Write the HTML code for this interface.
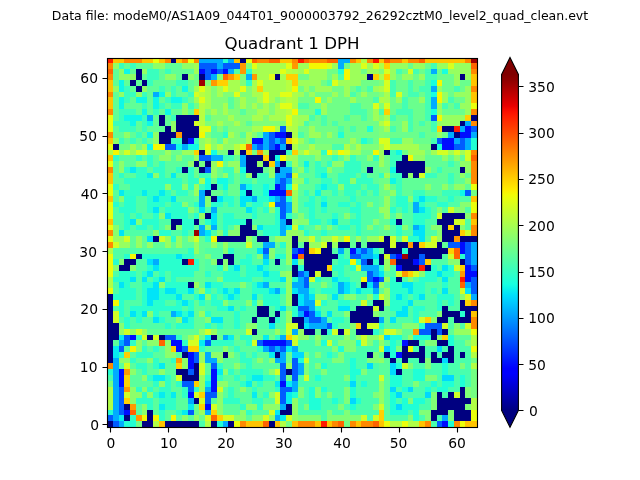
<!DOCTYPE html>
<html><head><meta charset="utf-8"><title>Quadrant 1 DPH</title>
<style>html,body{margin:0;padding:0;background:#fff}body{width:640px;height:480px;position:relative;overflow:hidden}</style>
</head><body>
<svg width="640" height="480" viewBox="0 0 640 480" style="position:absolute;left:0;top:0">
<defs><linearGradient id="jet" x1="0" y1="1" x2="0" y2="0"><stop offset="0.0000" stop-color="#000080"/><stop offset="0.0156" stop-color="#000092"/><stop offset="0.0312" stop-color="#0000a4"/><stop offset="0.0469" stop-color="#0000b6"/><stop offset="0.0625" stop-color="#0000c8"/><stop offset="0.0781" stop-color="#0000da"/><stop offset="0.0938" stop-color="#0000ed"/><stop offset="0.1094" stop-color="#0000ff"/><stop offset="0.1250" stop-color="#0000ff"/><stop offset="0.1406" stop-color="#0010ff"/><stop offset="0.1562" stop-color="#0020ff"/><stop offset="0.1719" stop-color="#0030ff"/><stop offset="0.1875" stop-color="#0040ff"/><stop offset="0.2031" stop-color="#0050ff"/><stop offset="0.2188" stop-color="#0060ff"/><stop offset="0.2344" stop-color="#0070ff"/><stop offset="0.2500" stop-color="#0080ff"/><stop offset="0.2656" stop-color="#0090ff"/><stop offset="0.2812" stop-color="#00a0ff"/><stop offset="0.2969" stop-color="#00b0ff"/><stop offset="0.3125" stop-color="#00c0ff"/><stop offset="0.3281" stop-color="#00d0ff"/><stop offset="0.3438" stop-color="#00e0fb"/><stop offset="0.3594" stop-color="#09f0ee"/><stop offset="0.3750" stop-color="#16ffe1"/><stop offset="0.3906" stop-color="#23ffd4"/><stop offset="0.4062" stop-color="#30ffc7"/><stop offset="0.4219" stop-color="#3cffba"/><stop offset="0.4375" stop-color="#49ffad"/><stop offset="0.4531" stop-color="#56ffa0"/><stop offset="0.4688" stop-color="#63ff94"/><stop offset="0.4844" stop-color="#70ff87"/><stop offset="0.5000" stop-color="#7dff7a"/><stop offset="0.5156" stop-color="#8aff6d"/><stop offset="0.5312" stop-color="#97ff60"/><stop offset="0.5469" stop-color="#a4ff53"/><stop offset="0.5625" stop-color="#b1ff46"/><stop offset="0.5781" stop-color="#beff39"/><stop offset="0.5938" stop-color="#caff2c"/><stop offset="0.6094" stop-color="#d7ff1f"/><stop offset="0.6250" stop-color="#e4ff13"/><stop offset="0.6406" stop-color="#f1fc06"/><stop offset="0.6562" stop-color="#feed00"/><stop offset="0.6719" stop-color="#ffde00"/><stop offset="0.6875" stop-color="#ffd000"/><stop offset="0.7031" stop-color="#ffc100"/><stop offset="0.7188" stop-color="#ffb200"/><stop offset="0.7344" stop-color="#ffa300"/><stop offset="0.7500" stop-color="#ff9400"/><stop offset="0.7656" stop-color="#ff8600"/><stop offset="0.7812" stop-color="#ff7700"/><stop offset="0.7969" stop-color="#ff6800"/><stop offset="0.8125" stop-color="#ff5900"/><stop offset="0.8281" stop-color="#ff4a00"/><stop offset="0.8438" stop-color="#ff3b00"/><stop offset="0.8594" stop-color="#ff2d00"/><stop offset="0.8750" stop-color="#ff1e00"/><stop offset="0.8906" stop-color="#fa0f00"/><stop offset="0.9062" stop-color="#e80000"/><stop offset="0.9219" stop-color="#d60000"/><stop offset="0.9375" stop-color="#c40000"/><stop offset="0.9531" stop-color="#b20000"/><stop offset="0.9688" stop-color="#9f0000"/><stop offset="0.9844" stop-color="#8d0000"/><stop offset="1.0000" stop-color="#800000"/></linearGradient></defs>
<g shape-rendering="crispEdges"><path fill="#000080" d="M171 58h5v5h-5zM240 58h6v5h-6zM136 69h6v5h-6zM136 74h6v6h-6zM182 74h6v6h-6zM199 74h6v6h-6zM275 74h5v6h-5zM367 74h6v6h-6zM460 74h5v6h-5zM130 80h6v6h-6zM142 80h5v6h-5zM136 86h6v6h-6zM159 115h6v6h-6zM176 115h23v6h-23zM471 115h7v6h-7zM159 121h6v5h-6zM176 121h18v5h-18zM460 121h5v5h-5zM165 126h6v6h-6zM176 126h23v6h-23zM442 126h12v6h-12zM159 132h17v6h-17zM182 132h17v6h-17zM286 132h6v6h-6zM454 132h6v6h-6zM159 138h12v6h-12zM182 138h6v6h-6zM113 144h6v6h-6zM286 144h6v6h-6zM431 144h6v6h-6zM199 150h6v5h-6zM228 150h6v5h-6zM240 150h6v5h-6zM269 150h17v5h-17zM384 150h6v5h-6zM246 155h17v6h-17zM269 155h6v6h-6zM402 155h6v6h-6zM194 161h5v6h-5zM205 161h6v6h-6zM246 161h11v6h-11zM263 161h6v6h-6zM280 161h6v6h-6zM396 161h29v6h-29zM182 167h6v6h-6zM199 167h6v6h-6zM246 167h17v6h-17zM275 167h5v6h-5zM367 167h6v6h-6zM396 167h29v6h-29zM460 167h5v6h-5zM252 173h5v5h-5zM402 173h6v5h-6zM413 173h6v5h-6zM211 184h6v6h-6zM205 190h6v6h-6zM246 190h6v6h-6zM211 196h6v6h-6zM205 213h6v6h-6zM442 213h23v6h-23zM171 219h11v6h-11zM194 219h5v6h-5zM246 219h6v6h-6zM286 219h6v6h-6zM396 219h6v6h-6zM437 219h17v6h-17zM171 225h5v5h-5zM240 225h12v5h-12zM442 225h6v5h-6zM454 225h6v5h-6zM240 230h17v6h-17zM442 230h18v6h-18zM153 236h6v6h-6zM217 236h29v6h-29zM257 236h12v6h-12zM292 236h6v6h-6zM384 236h6v6h-6zM442 236h12v6h-12zM460 236h18v6h-18zM292 242h6v6h-6zM304 242h5v6h-5zM327 242h5v6h-5zM338 242h12v6h-12zM356 242h5v6h-5zM367 242h23v6h-23zM396 242h12v6h-12zM413 242h6v6h-6zM437 242h5v6h-5zM304 248h5v6h-5zM321 248h11v6h-11zM384 248h18v6h-18zM408 248h40v6h-40zM136 254h6v5h-6zM223 254h11v5h-11zM304 254h34v5h-34zM379 254h5v5h-5zM408 254h11v5h-11zM425 254h17v5h-17zM124 259h12v6h-12zM182 259h6v6h-6zM217 259h6v6h-6zM228 259h6v6h-6zM275 259h5v6h-5zM304 259h28v6h-28zM367 259h6v6h-6zM379 259h5v6h-5zM396 259h17v6h-17zM460 259h5v6h-5zM119 265h11v6h-11zM292 265h6v6h-6zM304 265h23v6h-23zM402 265h17v6h-17zM425 265h6v6h-6zM292 271h6v6h-6zM309 271h6v6h-6zM321 271h11v6h-11zM396 277h6v5h-6zM188 282h6v6h-6zM361 282h6v6h-6zM107 294h6v6h-6zM292 294h6v6h-6zM107 300h6v6h-6zM292 300h6v6h-6zM373 300h11v6h-11zM460 300h5v6h-5zM107 306h6v5h-6zM257 306h12v5h-12zM356 306h17v5h-17zM379 306h5v5h-5zM442 306h6v5h-6zM460 306h18v5h-18zM107 311h6v6h-6zM257 311h12v6h-12zM275 311h5v6h-5zM350 311h23v6h-23zM442 311h18v6h-18zM465 311h6v6h-6zM107 317h6v6h-6zM252 317h5v6h-5zM269 317h6v6h-6zM292 317h12v6h-12zM350 317h29v6h-29zM437 317h11v6h-11zM454 317h17v6h-17zM107 323h12v6h-12zM298 323h6v6h-6zM361 323h6v6h-6zM107 329h12v6h-12zM252 329h5v6h-5zM304 329h11v6h-11zM321 329h6v6h-6zM338 329h6v6h-6zM356 329h17v6h-17zM431 329h6v6h-6zM442 329h6v6h-6zM107 335h12v5h-12zM147 335h6v5h-6zM159 335h6v5h-6zM211 335h6v5h-6zM431 335h6v5h-6zM107 340h6v6h-6zM408 340h11v6h-11zM437 340h11v6h-11zM107 346h6v6h-6zM402 346h6v6h-6zM419 346h6v6h-6zM448 346h6v6h-6zM107 352h6v6h-6zM182 352h6v6h-6zM223 352h5v6h-5zM275 352h5v6h-5zM367 352h6v6h-6zM384 352h6v6h-6zM402 352h23v6h-23zM431 352h6v6h-6zM442 352h12v6h-12zM460 352h5v6h-5zM107 358h6v5h-6zM390 358h6v5h-6zM402 358h6v5h-6zM419 358h6v5h-6zM431 358h11v5h-11zM448 358h6v5h-6zM194 363h5v6h-5zM176 369h12v6h-12zM194 369h5v6h-5zM286 369h6v6h-6zM396 369h6v6h-6zM182 375h17v6h-17zM460 387h5v5h-5zM437 392h5v6h-5zM448 392h6v6h-6zM460 392h5v6h-5zM194 398h5v6h-5zM437 398h34v6h-34zM124 404h6v6h-6zM286 404h6v6h-6zM437 404h28v6h-28zM147 410h6v5h-6zM280 410h12v5h-12zM431 410h17v5h-17zM454 410h17v5h-17zM124 415h6v6h-6zM147 415h6v6h-6zM431 415h6v6h-6zM454 415h17v6h-17zM107 421h6v7h-6zM142 421h11v7h-11zM165 421h34v7h-34zM211 421h6v7h-6zM228 421h6v7h-6zM269 421h6v7h-6z"/><path fill="#000cff" d="M199 69h6v5h-6zM211 69h6v5h-6zM223 69h5v5h-5zM465 126h6v6h-6zM275 132h11v6h-11zM460 132h11v6h-11zM188 138h6v6h-6zM252 138h11v6h-11zM442 138h12v6h-12zM275 144h5v6h-5zM442 144h12v6h-12zM275 184h5v6h-5zM269 190h17v6h-17zM460 242h5v6h-5zM298 248h6v6h-6zM350 248h6v6h-6zM460 248h5v6h-5zM292 254h6v5h-6zM396 254h6v5h-6zM413 259h6v6h-6zM396 265h6v6h-6zM465 265h6v6h-6zM465 271h13v6h-13zM373 277h6v5h-6zM465 277h6v5h-6zM304 311h5v6h-5zM130 335h6v5h-6zM171 340h11v6h-11zM263 340h23v6h-23zM402 340h6v6h-6zM176 346h6v6h-6zM188 352h6v6h-6zM396 352h6v6h-6zM188 358h6v5h-6zM188 363h6v6h-6zM119 369h5v6h-5zM211 369h6v6h-6zM119 375h5v6h-5zM211 375h6v6h-6zM119 381h5v6h-5zM211 381h6v6h-6zM280 381h6v6h-6zM211 387h6v5h-6zM188 392h6v6h-6zM205 404h6v6h-6zM124 410h6v5h-6zM442 421h6v7h-6z"/><path fill="#005cff" d="M199 63h18v6h-18zM223 63h17v6h-17zM205 69h6v5h-6zM217 69h6v5h-6zM205 74h6v6h-6zM431 115h6v6h-6zM280 126h6v6h-6zM471 126h7v6h-7zM269 132h6v6h-6zM269 138h6v6h-6zM280 138h6v6h-6zM437 138h5v6h-5zM460 138h5v6h-5zM165 144h11v6h-11zM257 144h6v6h-6zM269 144h6v6h-6zM454 144h11v6h-11zM199 155h12v6h-12zM205 167h6v6h-6zM286 173h6v5h-6zM280 178h6v6h-6zM280 184h6v6h-6zM465 190h6v6h-6zM280 196h6v6h-6zM275 202h11v5h-11zM280 207h6v6h-6zM280 213h6v6h-6zM448 242h12v6h-12zM465 242h6v6h-6zM263 248h6v6h-6zM292 248h6v6h-6zM361 248h6v6h-6zM465 248h6v6h-6zM350 254h11v5h-11zM390 254h6v5h-6zM419 254h6v5h-6zM465 254h6v5h-6zM361 259h6v6h-6zM419 259h6v6h-6zM465 259h6v6h-6zM471 265h7v6h-7zM298 271h6v6h-6zM367 271h6v6h-6zM304 277h5v5h-5zM367 277h6v5h-6zM379 277h5v5h-5zM471 277h7v5h-7zM304 282h5v6h-5zM373 282h6v6h-6zM471 282h7v6h-7zM471 288h7v6h-7zM298 306h11v5h-11zM309 311h6v6h-6zM309 317h12v6h-12zM327 323h5v6h-5zM425 323h17v6h-17zM419 329h12v6h-12zM437 329h5v6h-5zM124 335h6v5h-6zM165 335h11v5h-11zM124 340h6v6h-6zM205 340h6v6h-6zM257 340h6v6h-6zM286 340h6v6h-6zM119 346h5v6h-5zM182 346h6v6h-6zM269 346h6v6h-6zM280 346h6v6h-6zM194 352h5v6h-5zM194 358h5v5h-5zM292 358h6v5h-6zM211 363h6v6h-6zM280 363h6v6h-6zM292 363h6v6h-6zM188 369h6v6h-6zM280 369h6v6h-6zM292 369h6v6h-6zM280 375h6v6h-6zM292 375h6v6h-6zM182 381h12v6h-12zM119 387h5v5h-5zM188 387h6v5h-6zM280 387h12v5h-12zM119 392h5v6h-5zM205 392h12v6h-12zM280 392h6v6h-6zM119 398h5v6h-5zM205 398h6v6h-6zM280 398h6v6h-6zM119 404h5v6h-5zM119 410h5v5h-5zM188 410h6v5h-6zM107 415h6v6h-6zM113 421h6v7h-6zM437 421h5v7h-5z"/><path fill="#00acff" d="M199 58h24v5h-24zM228 58h6v5h-6zM338 58h12v5h-12zM217 63h6v6h-6zM338 63h6v6h-6zM228 69h6v5h-6zM431 69h6v5h-6zM211 74h6v6h-6zM246 74h6v6h-6zM431 86h6v6h-6zM153 92h6v5h-6zM431 97h6v6h-6zM431 103h6v6h-6zM147 115h6v6h-6zM465 121h6v5h-6zM460 126h5v6h-5zM263 132h6v6h-6zM448 132h6v6h-6zM471 132h7v6h-7zM263 138h6v6h-6zM275 138h5v6h-5zM454 138h6v6h-6zM465 138h6v6h-6zM182 144h6v6h-6zM252 144h5v6h-5zM263 144h6v6h-6zM280 144h6v6h-6zM465 144h6v6h-6zM211 155h12v6h-12zM240 155h6v6h-6zM240 161h6v6h-6zM275 161h5v6h-5zM280 167h12v6h-12zM275 173h11v5h-11zM275 178h5v6h-5zM286 178h6v6h-6zM240 184h6v6h-6zM199 190h6v6h-6zM199 196h6v6h-6zM252 196h5v6h-5zM275 196h5v6h-5zM199 202h6v5h-6zM286 202h6v5h-6zM413 202h6v5h-6zM211 207h6v6h-6zM286 207h6v6h-6zM413 207h6v6h-6zM280 219h6v6h-6zM199 225h6v5h-6zM211 225h6v5h-6zM280 225h6v5h-6zM413 225h6v5h-6zM199 230h6v6h-6zM280 230h6v6h-6zM263 242h12v6h-12zM471 242h7v6h-7zM338 248h6v6h-6zM356 248h5v6h-5zM367 248h6v6h-6zM471 248h7v6h-7zM263 254h6v5h-6zM361 254h12v5h-12zM471 254h7v5h-7zM153 259h6v6h-6zM471 259h7v6h-7zM361 265h18v6h-18zM304 271h5v6h-5zM373 271h6v6h-6zM298 277h6v5h-6zM263 282h6v6h-6zM292 282h12v6h-12zM338 282h6v6h-6zM465 282h6v6h-6zM275 288h5v6h-5zM298 288h11v6h-11zM338 288h6v6h-6zM373 288h6v6h-6zM304 294h5v6h-5zM471 294h7v6h-7zM304 300h11v6h-11zM309 306h6v5h-6zM171 311h5v6h-5zM298 311h6v6h-6zM304 317h5v6h-5zM321 317h6v6h-6zM379 317h5v6h-5zM309 323h18v6h-18zM292 329h6v6h-6zM223 335h5v5h-5zM280 335h6v5h-6zM119 340h5v6h-5zM263 346h6v6h-6zM275 346h5v6h-5zM292 346h6v6h-6zM205 352h6v6h-6zM280 352h6v6h-6zM113 358h6v5h-6zM205 358h12v5h-12zM275 358h11v5h-11zM113 363h6v6h-6zM298 363h6v6h-6zM113 369h6v6h-6zM298 369h6v6h-6zM113 375h6v6h-6zM113 381h6v6h-6zM292 381h6v6h-6zM113 387h6v5h-6zM205 387h6v5h-6zM292 387h6v5h-6zM113 392h6v6h-6zM113 398h6v6h-6zM188 398h6v6h-6zM113 404h6v6h-6zM280 404h6v6h-6zM113 410h6v5h-6zM205 410h6v5h-6zM113 415h6v6h-6zM275 415h5v6h-5zM442 415h6v6h-6zM119 421h5v7h-5zM223 421h5v7h-5z"/><path fill="#00d8ff" d="M384 335h6v5h-6zM384 346h6v6h-6zM437 346h5v6h-5zM292 352h12v6h-12zM442 358h6v5h-6zM367 363h6v6h-6zM390 363h6v6h-6zM390 369h6v6h-6zM442 375h12v6h-12zM350 381h6v6h-6zM390 387h6v5h-6zM408 387h5v5h-5zM396 392h6v6h-6zM425 392h6v6h-6zM350 398h6v6h-6zM396 404h6v6h-6z"/><path fill="#00e4f8" d="M153 196h6v6h-6zM171 196h5v6h-5zM217 196h6v6h-6zM240 196h12v6h-12zM269 196h6v6h-6zM419 196h6v6h-6zM240 202h6v5h-6zM321 202h6v5h-6zM153 207h6v6h-6zM199 207h6v6h-6zM246 207h6v6h-6zM419 207h6v6h-6zM165 213h6v6h-6zM211 213h6v6h-6zM130 219h6v6h-6zM211 219h6v6h-6zM332 219h6v6h-6zM257 225h6v5h-6zM286 225h6v5h-6zM419 225h6v5h-6zM119 230h5v6h-5zM205 230h6v6h-6zM413 230h12v6h-12zM147 236h6v6h-6zM419 236h6v6h-6zM257 248h6v6h-6zM176 254h6v5h-6zM373 254h6v5h-6zM147 259h6v6h-6zM263 259h6v6h-6zM292 259h6v6h-6zM153 265h6v6h-6zM234 265h6v6h-6zM257 265h6v6h-6zM442 265h6v6h-6zM147 271h6v6h-6zM263 271h6v6h-6zM379 271h5v6h-5zM437 271h5v6h-5zM130 277h6v5h-6zM142 277h5v5h-5zM159 277h6v5h-6zM280 277h6v5h-6zM332 277h6v5h-6zM442 277h6v5h-6zM119 282h5v6h-5zM153 282h6v6h-6zM205 282h6v6h-6zM257 282h6v6h-6zM344 282h6v6h-6zM367 282h6v6h-6zM402 282h11v6h-11zM147 288h12v6h-12zM165 288h11v6h-11zM188 288h6v6h-6zM223 288h5v6h-5zM234 288h6v6h-6zM269 288h6v6h-6zM292 288h6v6h-6zM344 288h6v6h-6zM356 288h5v6h-5zM408 288h5v6h-5zM442 288h6v6h-6zM465 288h6v6h-6zM147 294h12v6h-12zM176 294h6v6h-6zM199 294h6v6h-6zM228 294h6v6h-6zM252 294h5v6h-5zM298 294h6v6h-6zM309 294h6v6h-6zM332 294h6v6h-6zM396 294h6v6h-6zM419 294h6v6h-6zM147 300h6v6h-6zM182 300h6v6h-6zM298 300h6v6h-6zM408 300h5v6h-5zM228 306h6v5h-6zM280 306h6v5h-6zM338 306h12v5h-12zM402 306h6v5h-6zM130 311h6v6h-6zM142 311h5v6h-5zM176 311h6v6h-6zM188 311h6v6h-6zM315 311h6v6h-6zM327 311h5v6h-5zM396 311h12v6h-12zM153 317h6v6h-6zM182 317h6v6h-6zM211 317h12v6h-12zM390 317h6v6h-6zM269 323h6v6h-6zM304 323h5v6h-5z"/><path fill="#06ecf1" d="M130 167h6v6h-6zM147 173h6v5h-6zM171 173h5v5h-5zM119 190h5v6h-5zM142 190h5v6h-5zM159 190h6v6h-6zM119 335h5v5h-5zM205 335h6v5h-6zM228 335h6v5h-6zM263 335h6v5h-6zM199 340h6v6h-6zM113 346h6v6h-6zM286 346h6v6h-6zM113 352h6v6h-6zM269 352h6v6h-6zM159 363h6v6h-6zM217 369h6v6h-6zM153 375h12v6h-12zM252 375h11v6h-11zM205 381h6v6h-6zM246 381h6v6h-6zM275 381h5v6h-5zM286 381h6v6h-6zM159 392h6v6h-6zM171 392h5v6h-5zM252 392h5v6h-5zM286 392h6v6h-6zM286 398h6v6h-6zM159 404h6v6h-6zM188 404h6v6h-6zM182 410h6v5h-6zM275 410h5v5h-5zM119 415h5v6h-5zM280 415h6v6h-6z"/><path fill="#0cf4eb" d="M304 161h5v6h-5zM321 173h6v5h-6zM321 184h6v6h-6zM315 190h6v6h-6z"/><path fill="#0ff8e7" d="M124 69h6v5h-6zM119 80h5v6h-5zM119 86h5v6h-5zM182 86h6v6h-6zM159 92h6v5h-6zM119 97h5v6h-5zM136 97h11v6h-11zM153 97h6v6h-6zM171 97h11v6h-11zM119 103h5v6h-5zM153 103h6v6h-6zM142 109h5v6h-5zM165 109h6v6h-6zM124 115h18v6h-18zM130 121h6v5h-6zM147 121h6v5h-6zM147 132h6v6h-6zM147 144h6v6h-6zM176 144h6v6h-6zM188 144h11v6h-11zM396 150h6v5h-6zM390 167h6v6h-6zM390 178h6v6h-6zM460 190h5v6h-5z"/><path fill="#13fce4" d="M211 150h6v5h-6zM275 155h5v6h-5zM240 167h6v6h-6zM205 178h6v6h-6zM217 178h11v6h-11zM205 184h6v6h-6zM223 184h5v6h-5zM246 184h6v6h-6zM263 184h6v6h-6zM286 184h6v6h-6zM240 190h6v6h-6zM263 190h6v6h-6z"/><path fill="#19ffde" d="M442 69h6v5h-6zM431 80h6v6h-6zM431 92h6v5h-6zM431 109h6v6h-6zM437 144h5v6h-5z"/><path fill="#1fffd7" d="M338 69h6v5h-6zM315 109h6v6h-6zM367 126h6v6h-6zM338 132h6v6h-6zM361 138h6v6h-6zM390 335h12v5h-12zM413 335h18v5h-18zM448 335h6v5h-6zM321 340h6v6h-6zM356 340h5v6h-5zM390 340h6v6h-6zM448 340h6v6h-6zM338 346h6v6h-6zM390 346h6v6h-6zM327 352h5v6h-5zM390 352h6v6h-6zM298 358h6v5h-6zM350 358h6v5h-6zM321 363h6v6h-6zM350 363h6v6h-6zM396 363h6v6h-6zM442 363h6v6h-6zM350 369h11v6h-11zM413 369h12v6h-12zM442 369h6v6h-6zM315 375h6v6h-6zM350 375h6v6h-6zM390 375h12v6h-12zM413 375h12v6h-12zM460 375h5v6h-5zM361 381h6v6h-6zM390 381h12v6h-12zM431 381h6v6h-6zM442 381h12v6h-12zM460 381h5v6h-5zM309 387h6v5h-6zM321 387h6v5h-6zM350 387h6v5h-6zM402 387h6v5h-6zM425 387h6v5h-6zM437 387h11v5h-11zM292 392h6v6h-6zM309 392h6v6h-6zM350 392h6v6h-6zM390 392h6v6h-6zM309 398h12v6h-12zM332 398h6v6h-6zM356 398h5v6h-5zM390 398h6v6h-6zM402 398h6v6h-6zM413 398h12v6h-12zM309 404h12v6h-12zM350 404h6v6h-6zM390 404h6v6h-6zM402 404h17v6h-17zM390 410h18v5h-18zM413 410h6v5h-6zM413 415h6v6h-6z"/><path fill="#23ffd4" d="M223 58h5v5h-5zM471 138h7v6h-7zM471 144h7v6h-7zM107 369h6v6h-6zM107 410h6v5h-6zM124 421h12v7h-12zM217 421h6v7h-6zM448 421h6v7h-6z"/><path fill="#29ffce" d="M124 196h12v6h-12zM147 196h6v6h-6zM159 196h12v6h-12zM223 196h11v6h-11zM257 196h12v6h-12zM286 196h6v6h-6zM309 196h6v6h-6zM321 196h6v6h-6zM350 196h6v6h-6zM396 196h12v6h-12zM413 196h6v6h-6zM425 196h12v6h-12zM448 196h6v6h-6zM113 202h6v5h-6zM124 202h12v5h-12zM147 202h18v5h-18zM171 202h11v5h-11zM194 202h5v5h-5zM211 202h12v5h-12zM228 202h6v5h-6zM252 202h11v5h-11zM304 202h11v5h-11zM338 202h12v5h-12zM356 202h5v5h-5zM396 202h12v5h-12zM419 202h6v5h-6zM437 202h11v5h-11zM119 207h17v6h-17zM147 207h6v6h-6zM165 207h23v6h-23zM252 207h5v6h-5zM263 207h6v6h-6zM275 207h5v6h-5zM309 207h6v6h-6zM321 207h6v6h-6zM350 207h11v6h-11zM390 207h6v6h-6zM402 207h6v6h-6zM425 207h6v6h-6zM124 213h6v6h-6zM136 213h6v6h-6zM153 213h6v6h-6zM171 213h17v6h-17zM194 213h5v6h-5zM223 213h11v6h-11zM252 213h5v6h-5zM275 213h5v6h-5zM286 213h6v6h-6zM309 213h6v6h-6zM332 213h6v6h-6zM356 213h5v6h-5zM413 213h18v6h-18zM124 219h6v6h-6zM142 219h17v6h-17zM182 219h12v6h-12zM205 219h6v6h-6zM223 219h23v6h-23zM275 219h5v6h-5zM309 219h12v6h-12zM327 219h5v6h-5zM350 219h11v6h-11zM390 219h6v6h-6zM413 219h12v6h-12zM124 225h6v5h-6zM136 225h11v5h-11zM153 225h6v5h-6zM182 225h12v5h-12zM223 225h5v5h-5zM263 225h17v5h-17zM298 225h6v5h-6zM338 225h12v5h-12zM356 225h5v5h-5zM396 225h6v5h-6zM159 230h12v6h-12zM182 230h6v6h-6zM223 230h5v6h-5zM263 230h17v6h-17zM304 230h5v6h-5zM321 230h6v6h-6zM356 230h5v6h-5zM396 230h6v6h-6zM171 236h5v6h-5zM205 236h6v6h-6zM408 236h11v6h-11zM280 242h6v6h-6zM188 248h6v6h-6zM228 248h6v6h-6zM373 248h6v6h-6zM402 248h6v6h-6zM124 254h6v5h-6zM142 254h34v5h-34zM182 254h12v5h-12zM246 254h6v5h-6zM275 254h11v5h-11zM338 254h6v5h-6zM460 254h5v5h-5zM113 259h6v6h-6zM159 259h23v6h-23zM194 259h5v6h-5zM240 259h12v6h-12zM338 259h12v6h-12zM356 259h5v6h-5zM373 259h6v6h-6zM147 265h6v6h-6zM159 265h40v6h-40zM217 265h6v6h-6zM228 265h6v6h-6zM246 265h11v6h-11zM263 265h6v6h-6zM298 265h6v6h-6zM332 265h12v6h-12zM350 265h6v6h-6zM379 265h5v6h-5zM431 265h6v6h-6zM448 265h6v6h-6zM119 271h17v6h-17zM142 271h5v6h-5zM159 271h6v6h-6zM171 271h23v6h-23zM205 271h6v6h-6zM223 271h17v6h-17zM246 271h17v6h-17zM269 271h11v6h-11zM338 271h6v6h-6zM425 271h12v6h-12zM442 271h12v6h-12zM113 277h17v5h-17zM153 277h6v5h-6zM171 277h5v5h-5zM223 277h29v5h-29zM263 277h17v5h-17zM292 277h6v5h-6zM315 277h6v5h-6zM338 277h12v5h-12zM390 277h6v5h-6zM419 277h18v5h-18zM124 282h6v6h-6zM142 282h11v6h-11zM165 282h23v6h-23zM211 282h12v6h-12zM252 282h5v6h-5zM332 282h6v6h-6zM350 282h6v6h-6zM390 282h12v6h-12zM413 282h12v6h-12zM442 282h6v6h-6zM119 288h17v6h-17zM142 288h5v6h-5zM159 288h6v6h-6zM176 288h12v6h-12zM205 288h6v6h-6zM217 288h6v6h-6zM228 288h6v6h-6zM252 288h17v6h-17zM280 288h6v6h-6zM309 288h6v6h-6zM321 288h17v6h-17zM350 288h6v6h-6zM361 288h12v6h-12zM390 288h18v6h-18zM413 288h12v6h-12zM431 288h6v6h-6zM113 294h23v6h-23zM142 294h5v6h-5zM159 294h17v6h-17zM194 294h5v6h-5zM211 294h6v6h-6zM223 294h5v6h-5zM234 294h6v6h-6zM263 294h17v6h-17zM373 294h6v6h-6zM390 294h6v6h-6zM402 294h6v6h-6zM413 294h6v6h-6zM437 294h17v6h-17zM119 300h5v6h-5zM142 300h5v6h-5zM153 300h12v6h-12zM176 300h6v6h-6zM188 300h6v6h-6zM199 300h6v6h-6zM211 300h12v6h-12zM252 300h5v6h-5zM263 300h17v6h-17zM321 300h6v6h-6zM338 300h12v6h-12zM390 300h18v6h-18zM437 300h5v6h-5zM448 300h6v6h-6zM119 306h5v5h-5zM130 306h52v5h-52zM188 306h6v5h-6zM217 306h11v5h-11zM240 306h6v5h-6zM275 306h5v5h-5zM292 306h6v5h-6zM315 306h6v5h-6zM390 306h12v5h-12zM413 306h12v5h-12zM437 306h5v5h-5zM119 311h5v6h-5zM136 311h6v6h-6zM153 311h6v6h-6zM182 311h6v6h-6zM205 311h6v6h-6zM234 311h6v6h-6zM292 311h6v6h-6zM413 311h6v6h-6zM460 311h5v6h-5zM124 317h6v6h-6zM136 317h6v6h-6zM159 317h6v6h-6zM188 317h6v6h-6zM234 317h6v6h-6zM275 317h5v6h-5zM332 317h12v6h-12zM413 317h6v6h-6zM124 323h6v6h-6zM165 323h6v6h-6zM176 323h18v6h-18zM205 323h6v6h-6zM217 323h6v6h-6zM234 323h6v6h-6zM332 323h6v6h-6zM379 323h5v6h-5zM419 323h6v6h-6zM327 329h5v6h-5zM373 329h6v6h-6z"/><path fill="#2cffca" d="M246 69h6v5h-6zM246 80h6v6h-6zM223 132h5v6h-5z"/><path fill="#30ffc7" d="M113 155h6v6h-6zM136 155h6v6h-6zM147 155h6v6h-6zM147 161h6v6h-6zM159 161h6v6h-6zM124 167h6v6h-6zM136 167h11v6h-11zM153 167h12v6h-12zM176 167h6v6h-6zM188 167h6v6h-6zM119 173h5v5h-5zM136 173h11v5h-11zM159 173h6v5h-6zM188 173h6v5h-6zM124 178h58v6h-58zM188 178h11v6h-11zM113 184h6v6h-6zM130 184h35v6h-35zM171 184h11v6h-11zM188 184h6v6h-6zM124 190h18v6h-18zM147 190h12v6h-12zM165 190h6v6h-6zM176 190h12v6h-12zM136 335h6v5h-6zM176 335h6v5h-6zM240 335h12v5h-12zM275 335h5v5h-5zM130 340h6v6h-6zM182 340h6v6h-6zM211 340h23v6h-23zM246 340h6v6h-6zM142 346h5v6h-5zM153 346h6v6h-6zM199 346h6v6h-6zM234 346h6v6h-6zM257 346h6v6h-6zM119 352h5v6h-5zM136 352h17v6h-17zM240 352h6v6h-6zM252 352h5v6h-5zM130 358h6v5h-6zM153 358h6v5h-6zM171 358h5v5h-5zM240 358h12v5h-12zM136 363h11v6h-11zM153 363h6v6h-6zM217 363h6v6h-6zM246 363h6v6h-6zM142 369h5v6h-5zM228 369h6v6h-6zM240 369h23v6h-23zM147 375h6v6h-6zM165 375h6v6h-6zM205 375h6v6h-6zM217 375h6v6h-6zM234 375h6v6h-6zM246 375h6v6h-6zM263 375h12v6h-12zM153 381h6v6h-6zM165 381h6v6h-6zM176 381h6v6h-6zM240 381h6v6h-6zM257 381h6v6h-6zM136 387h6v5h-6zM147 387h6v5h-6zM159 387h12v5h-12zM182 387h6v5h-6zM194 387h5v5h-5zM228 387h6v5h-6zM252 387h5v5h-5zM275 387h5v5h-5zM142 392h5v6h-5zM153 392h6v6h-6zM165 392h6v6h-6zM182 392h6v6h-6zM228 392h6v6h-6zM263 392h6v6h-6zM136 398h17v6h-17zM159 398h17v6h-17zM223 398h17v6h-17zM252 398h11v6h-11zM147 404h6v6h-6zM165 404h11v6h-11zM240 404h6v6h-6zM257 404h6v6h-6zM159 410h6v5h-6zM176 410h6v5h-6zM246 410h6v5h-6zM130 415h6v6h-6zM159 415h6v6h-6z"/><path fill="#33ffc4" d="M321 150h6v5h-6zM332 155h6v6h-6zM350 155h6v6h-6zM373 155h6v6h-6zM315 161h6v6h-6zM327 161h5v6h-5zM344 161h17v6h-17zM304 167h5v6h-5zM315 167h12v6h-12zM344 167h17v6h-17zM315 173h6v5h-6zM338 173h18v5h-18zM361 173h6v5h-6zM379 173h5v5h-5zM304 178h5v6h-5zM321 178h11v6h-11zM338 178h12v6h-12zM356 178h17v6h-17zM315 184h6v6h-6zM327 184h11v6h-11zM344 184h17v6h-17zM367 184h12v6h-12zM304 190h5v6h-5zM332 190h6v6h-6zM344 190h12v6h-12zM361 190h6v6h-6zM373 190h6v6h-6z"/><path fill="#39ffbe" d="M119 63h5v6h-5zM130 63h6v6h-6zM147 69h12v5h-12zM165 69h6v5h-6zM147 74h12v6h-12zM147 80h6v6h-6zM176 80h12v6h-12zM124 86h6v6h-6zM159 86h6v6h-6zM171 86h5v6h-5zM124 92h12v5h-12zM142 92h5v5h-5zM171 92h5v5h-5zM188 92h6v5h-6zM124 97h6v6h-6zM165 97h6v6h-6zM182 97h6v6h-6zM142 103h5v6h-5zM159 103h6v6h-6zM171 103h11v6h-11zM188 103h6v6h-6zM119 109h17v6h-17zM153 109h6v6h-6zM119 115h5v6h-5zM142 115h5v6h-5zM171 115h5v6h-5zM113 121h17v5h-17zM142 121h5v5h-5zM119 126h17v6h-17zM142 126h5v6h-5zM136 132h6v6h-6zM119 138h5v6h-5zM130 138h6v6h-6zM142 138h5v6h-5zM171 138h11v6h-11zM194 138h5v6h-5zM390 150h6v5h-6zM390 155h12v6h-12zM390 161h6v6h-6zM448 161h6v6h-6zM437 167h5v6h-5zM390 173h12v5h-12zM425 173h12v5h-12zM448 173h6v5h-6zM396 178h6v6h-6zM448 178h6v6h-6zM396 184h6v6h-6zM396 190h6v6h-6zM413 190h12v6h-12zM442 190h18v6h-18z"/><path fill="#3cffba" d="M286 150h6v5h-6zM223 155h11v6h-11zM286 161h6v6h-6zM223 167h11v6h-11zM199 173h12v5h-12zM228 173h6v5h-6zM240 173h6v5h-6zM257 173h12v5h-12zM228 178h6v6h-6zM240 178h12v6h-12zM257 178h18v6h-18zM199 184h6v6h-6zM217 184h6v6h-6zM252 184h11v6h-11zM269 184h6v6h-6zM223 190h5v6h-5zM252 190h11v6h-11z"/><path fill="#43ffb4" d="M431 63h6v6h-6zM396 69h6v5h-6zM413 69h6v5h-6zM425 69h6v5h-6zM425 74h12v6h-12zM390 80h6v6h-6zM408 80h5v6h-5zM425 80h6v6h-6zM390 86h6v6h-6zM408 86h5v6h-5zM419 86h12v6h-12zM454 86h6v6h-6zM390 92h6v5h-6zM408 92h11v5h-11zM425 92h6v5h-6zM402 97h6v6h-6zM425 97h6v6h-6zM448 97h6v6h-6zM402 103h6v6h-6zM425 103h6v6h-6zM442 103h6v6h-6zM454 103h6v6h-6zM396 109h17v6h-17zM425 109h6v6h-6zM390 115h6v6h-6zM408 115h5v6h-5zM425 115h6v6h-6zM408 121h5v5h-5zM419 121h6v5h-6zM431 121h6v5h-6zM390 126h6v6h-6zM408 126h5v6h-5zM431 126h6v6h-6zM419 132h6v6h-6zM390 138h12v6h-12zM431 138h6v6h-6z"/><path fill="#49ffad" d="M338 74h6v6h-6zM327 80h5v6h-5zM356 86h5v6h-5zM367 86h6v6h-6zM350 92h6v5h-6zM373 97h6v6h-6zM298 103h11v6h-11zM350 103h11v6h-11zM350 109h17v6h-17zM379 109h5v6h-5zM309 115h6v6h-6zM321 115h6v6h-6zM344 115h6v6h-6zM361 115h6v6h-6zM304 121h5v5h-5zM321 121h6v5h-6zM332 121h6v5h-6zM338 126h6v6h-6zM350 126h6v6h-6zM298 132h6v6h-6zM309 138h6v6h-6zM367 138h6v6h-6zM332 144h12v6h-12zM298 340h17v6h-17zM332 340h6v6h-6zM373 340h6v6h-6zM396 340h6v6h-6zM419 340h6v6h-6zM454 340h11v6h-11zM298 346h34v6h-34zM356 346h23v6h-23zM413 346h6v6h-6zM425 346h12v6h-12zM442 346h6v6h-6zM454 346h17v6h-17zM309 352h6v6h-6zM321 352h6v6h-6zM332 352h6v6h-6zM344 352h23v6h-23zM425 352h6v6h-6zM437 352h5v6h-5zM454 352h6v6h-6zM465 352h6v6h-6zM309 358h23v5h-23zM344 358h6v5h-6zM356 358h11v5h-11zM396 358h6v5h-6zM408 358h11v5h-11zM454 358h17v5h-17zM309 363h6v6h-6zM327 363h23v6h-23zM356 363h11v6h-11zM373 363h6v6h-6zM413 363h12v6h-12zM431 363h11v6h-11zM448 363h12v6h-12zM465 363h6v6h-6zM309 369h12v6h-12zM327 369h23v6h-23zM367 369h12v6h-12zM402 369h11v6h-11zM425 369h17v6h-17zM448 369h23v6h-23zM107 375h6v6h-6zM298 375h6v6h-6zM309 375h6v6h-6zM321 375h23v6h-23zM356 375h23v6h-23zM402 375h11v6h-11zM437 375h5v6h-5zM454 375h6v6h-6zM465 375h6v6h-6zM298 381h52v6h-52zM356 381h5v6h-5zM367 381h12v6h-12zM402 381h11v6h-11zM419 381h12v6h-12zM437 381h5v6h-5zM454 381h6v6h-6zM465 381h6v6h-6zM304 387h5v5h-5zM327 387h17v5h-17zM356 387h23v5h-23zM396 387h6v5h-6zM413 387h12v5h-12zM431 387h6v5h-6zM448 387h12v5h-12zM304 392h5v6h-5zM321 392h6v6h-6zM332 392h12v6h-12zM356 392h17v6h-17zM402 392h23v6h-23zM442 392h6v6h-6zM298 398h11v6h-11zM321 398h11v6h-11zM338 398h6v6h-6zM361 398h18v6h-18zM396 398h6v6h-6zM425 398h6v6h-6zM298 404h6v6h-6zM321 404h17v6h-17zM344 404h6v6h-6zM356 404h17v6h-17zM419 404h12v6h-12zM298 410h29v5h-29zM332 410h12v5h-12zM350 410h29v5h-29zM408 410h5v5h-5zM321 415h6v6h-6zM367 415h6v6h-6zM390 415h18v6h-18zM419 415h6v6h-6zM437 415h5v6h-5zM199 421h6v7h-6zM431 421h6v7h-6z"/><path fill="#50ffa7" d="M113 196h6v6h-6zM136 196h11v6h-11zM176 196h18v6h-18zM234 196h6v6h-6zM298 196h11v6h-11zM315 196h6v6h-6zM327 196h23v6h-23zM356 196h23v6h-23zM390 196h6v6h-6zM437 196h11v6h-11zM454 196h17v6h-17zM119 202h5v5h-5zM136 202h11v5h-11zM165 202h6v5h-6zM188 202h6v5h-6zM223 202h5v5h-5zM234 202h6v5h-6zM246 202h6v5h-6zM263 202h6v5h-6zM298 202h6v5h-6zM315 202h6v5h-6zM327 202h11v5h-11zM350 202h6v5h-6zM361 202h6v5h-6zM373 202h6v5h-6zM390 202h6v5h-6zM408 202h5v5h-5zM425 202h12v5h-12zM448 202h12v5h-12zM113 207h6v6h-6zM136 207h11v6h-11zM159 207h6v6h-6zM205 207h6v6h-6zM217 207h29v6h-29zM257 207h6v6h-6zM298 207h11v6h-11zM315 207h6v6h-6zM327 207h23v6h-23zM361 207h18v6h-18zM396 207h6v6h-6zM408 207h5v6h-5zM431 207h6v6h-6zM442 207h6v6h-6zM465 207h6v6h-6zM113 213h11v6h-11zM130 213h6v6h-6zM142 213h11v6h-11zM188 213h6v6h-6zM217 213h6v6h-6zM234 213h18v6h-18zM257 213h18v6h-18zM304 213h5v6h-5zM315 213h17v6h-17zM338 213h6v6h-6zM350 213h6v6h-6zM361 213h18v6h-18zM390 213h6v6h-6zM402 213h11v6h-11zM431 213h6v6h-6zM113 219h11v6h-11zM159 219h12v6h-12zM217 219h6v6h-6zM252 219h23v6h-23zM321 219h6v6h-6zM338 219h12v6h-12zM361 219h12v6h-12zM402 219h11v6h-11zM425 219h12v6h-12zM465 219h6v6h-6zM119 225h5v5h-5zM130 225h6v5h-6zM147 225h6v5h-6zM159 225h6v5h-6zM217 225h6v5h-6zM228 225h6v5h-6zM304 225h11v5h-11zM321 225h6v5h-6zM332 225h6v5h-6zM350 225h6v5h-6zM361 225h6v5h-6zM373 225h6v5h-6zM390 225h6v5h-6zM408 225h5v5h-5zM425 225h6v5h-6zM465 225h6v5h-6zM124 230h29v6h-29zM171 230h11v6h-11zM188 230h6v6h-6zM211 230h6v6h-6zM257 230h6v6h-6zM309 230h12v6h-12zM327 230h29v6h-29zM361 230h18v6h-18zM390 230h6v6h-6zM402 230h11v6h-11zM425 230h12v6h-12zM113 248h75v6h-75zM205 248h18v6h-18zM234 248h23v6h-23zM275 248h11v6h-11zM332 248h6v6h-6zM344 248h6v6h-6zM113 254h11v5h-11zM211 254h12v5h-12zM234 254h12v5h-12zM252 254h5v5h-5zM344 254h6v5h-6zM442 254h6v5h-6zM136 259h11v6h-11zM205 259h6v6h-6zM234 259h6v6h-6zM252 259h11v6h-11zM269 259h6v6h-6zM280 259h6v6h-6zM332 259h6v6h-6zM431 259h17v6h-17zM136 265h11v6h-11zM205 265h12v6h-12zM240 265h6v6h-6zM269 265h17v6h-17zM344 265h6v6h-6zM390 265h6v6h-6zM437 265h5v6h-5zM113 271h6v6h-6zM136 271h6v6h-6zM153 271h6v6h-6zM165 271h6v6h-6zM211 271h12v6h-12zM240 271h6v6h-6zM332 271h6v6h-6zM344 271h23v6h-23zM390 271h6v6h-6zM454 271h6v6h-6zM136 277h6v5h-6zM147 277h6v5h-6zM165 277h6v5h-6zM176 277h18v5h-18zM205 277h12v5h-12zM252 277h11v5h-11zM321 277h11v5h-11zM350 277h11v5h-11zM402 277h6v5h-6zM413 277h6v5h-6zM437 277h5v5h-5zM448 277h12v5h-12zM113 282h6v6h-6zM130 282h12v6h-12zM223 282h17v6h-17zM246 282h6v6h-6zM269 282h17v6h-17zM309 282h12v6h-12zM327 282h5v6h-5zM356 282h5v6h-5zM425 282h17v6h-17zM448 282h12v6h-12zM113 288h6v6h-6zM136 288h6v6h-6zM211 288h6v6h-6zM240 288h12v6h-12zM315 288h6v6h-6zM425 288h6v6h-6zM437 288h5v6h-5zM448 288h12v6h-12zM136 294h6v6h-6zM182 294h12v6h-12zM217 294h6v6h-6zM240 294h12v6h-12zM257 294h6v6h-6zM280 294h6v6h-6zM327 294h5v6h-5zM338 294h6v6h-6zM356 294h11v6h-11zM408 294h5v6h-5zM425 294h12v6h-12zM454 294h6v6h-6zM124 300h18v6h-18zM165 300h11v6h-11zM205 300h6v6h-6zM228 300h18v6h-18zM280 300h6v6h-6zM327 300h11v6h-11zM350 300h11v6h-11zM367 300h6v6h-6zM413 300h24v6h-24zM442 300h6v6h-6zM454 300h6v6h-6zM113 306h6v5h-6zM124 306h6v5h-6zM182 306h6v5h-6zM205 306h12v5h-12zM234 306h6v5h-6zM246 306h11v5h-11zM269 306h6v5h-6zM321 306h17v5h-17zM350 306h6v5h-6zM408 306h5v5h-5zM425 306h12v5h-12zM448 306h12v5h-12zM124 311h6v6h-6zM159 311h12v6h-12zM211 311h23v6h-23zM240 311h17v6h-17zM269 311h6v6h-6zM280 311h6v6h-6zM321 311h6v6h-6zM332 311h12v6h-12zM390 311h6v6h-6zM408 311h5v6h-5zM419 311h18v6h-18zM119 317h5v6h-5zM130 317h6v6h-6zM142 317h11v6h-11zM165 317h11v6h-11zM223 317h11v6h-11zM240 317h12v6h-12zM257 317h12v6h-12zM280 317h6v6h-6zM327 317h5v6h-5zM344 317h6v6h-6zM396 317h17v6h-17zM448 317h6v6h-6zM130 323h35v6h-35zM171 323h5v6h-5zM211 323h6v6h-6zM223 323h11v6h-11zM240 323h6v6h-6zM257 323h12v6h-12zM275 323h11v6h-11zM338 323h12v6h-12zM390 323h12v6h-12zM448 323h6v6h-6zM460 323h5v6h-5z"/><path fill="#56ffa0" d="M234 69h6v5h-6zM228 97h6v6h-6zM228 103h6v6h-6zM240 109h6v6h-6zM205 115h6v6h-6zM246 121h6v5h-6zM211 126h6v6h-6zM223 126h5v6h-5zM211 132h12v6h-12zM240 132h6v6h-6zM257 132h6v6h-6zM217 138h6v6h-6z"/><path fill="#5aff9d" d="M119 155h17v6h-17zM142 155h5v6h-5zM153 155h6v6h-6zM171 155h5v6h-5zM182 155h12v6h-12zM113 161h6v6h-6zM124 161h12v6h-12zM153 161h6v6h-6zM165 161h23v6h-23zM113 167h6v6h-6zM147 167h6v6h-6zM165 167h11v6h-11zM113 173h6v5h-6zM124 173h12v5h-12zM165 173h6v5h-6zM176 173h12v5h-12zM113 178h11v6h-11zM182 178h6v6h-6zM119 184h11v6h-11zM113 190h6v6h-6zM171 190h5v6h-5zM188 190h6v6h-6zM309 335h6v5h-6zM321 335h23v5h-23zM350 335h6v5h-6zM402 335h6v5h-6zM454 335h17v5h-17zM113 340h6v6h-6zM142 340h5v6h-5zM234 340h12v6h-12zM384 340h6v6h-6zM124 346h6v6h-6zM147 346h6v6h-6zM159 346h6v6h-6zM205 346h18v6h-18zM228 346h6v6h-6zM240 346h17v6h-17zM130 352h6v6h-6zM153 352h12v6h-12zM176 352h6v6h-6zM234 352h6v6h-6zM246 352h6v6h-6zM257 352h12v6h-12zM379 352h5v6h-5zM136 358h11v5h-11zM159 358h12v5h-12zM223 358h17v5h-17zM252 358h5v5h-5zM263 358h6v5h-6zM384 358h6v5h-6zM119 363h5v6h-5zM130 363h6v6h-6zM147 363h6v6h-6zM165 363h11v6h-11zM205 363h6v6h-6zM223 363h11v6h-11zM240 363h6v6h-6zM252 363h28v6h-28zM379 363h11v6h-11zM136 369h6v6h-6zM147 369h12v6h-12zM165 369h11v6h-11zM205 369h6v6h-6zM234 369h6v6h-6zM263 369h6v6h-6zM379 369h11v6h-11zM130 375h12v6h-12zM171 375h5v6h-5zM223 375h11v6h-11zM240 375h6v6h-6zM275 375h5v6h-5zM384 375h6v6h-6zM130 381h23v6h-23zM171 381h5v6h-5zM228 381h12v6h-12zM252 381h5v6h-5zM263 381h12v6h-12zM384 381h6v6h-6zM153 387h6v5h-6zM171 387h11v5h-11zM223 387h5v5h-5zM234 387h6v5h-6zM246 387h6v5h-6zM257 387h18v5h-18zM384 387h6v5h-6zM176 392h6v6h-6zM223 392h5v6h-5zM234 392h18v6h-18zM257 392h6v6h-6zM384 392h6v6h-6zM153 398h6v6h-6zM176 398h12v6h-12zM211 398h6v6h-6zM240 398h12v6h-12zM263 398h12v6h-12zM384 398h6v6h-6zM136 404h6v6h-6zM153 404h6v6h-6zM176 404h12v6h-12zM223 404h17v6h-17zM384 404h6v6h-6zM136 410h6v5h-6zM153 410h6v5h-6zM165 410h11v5h-11zM223 410h17v5h-17zM252 410h17v5h-17zM384 410h6v5h-6zM165 415h6v6h-6zM176 415h6v6h-6zM188 415h6v6h-6zM246 415h6v6h-6zM384 415h6v6h-6z"/><path fill="#5dff9a" d="M298 155h17v6h-17zM321 155h11v6h-11zM338 155h6v6h-6zM356 155h11v6h-11zM298 161h6v6h-6zM309 161h6v6h-6zM321 161h6v6h-6zM361 161h18v6h-18zM309 167h6v6h-6zM332 167h12v6h-12zM361 167h6v6h-6zM373 167h6v6h-6zM298 173h17v5h-17zM327 173h11v5h-11zM356 173h5v5h-5zM367 173h12v5h-12zM309 178h12v6h-12zM332 178h6v6h-6zM373 178h6v6h-6zM298 184h17v6h-17zM361 184h6v6h-6zM298 190h6v6h-6zM309 190h6v6h-6zM321 190h11v6h-11zM338 190h6v6h-6zM356 190h5v6h-5zM367 190h6v6h-6z"/><path fill="#60ff97" d="M124 63h6v6h-6zM136 63h17v6h-17zM165 63h17v6h-17zM113 69h6v5h-6zM130 69h6v5h-6zM159 69h6v5h-6zM171 69h23v5h-23zM113 74h6v6h-6zM142 74h5v6h-5zM159 74h6v6h-6zM176 74h6v6h-6zM113 80h6v6h-6zM124 80h6v6h-6zM136 80h6v6h-6zM153 80h23v6h-23zM188 80h6v6h-6zM130 86h6v6h-6zM147 86h12v6h-12zM165 86h6v6h-6zM176 86h6v6h-6zM188 86h6v6h-6zM113 92h6v5h-6zM147 92h6v5h-6zM176 92h12v5h-12zM113 97h6v6h-6zM130 97h6v6h-6zM147 97h6v6h-6zM159 97h6v6h-6zM188 97h6v6h-6zM113 103h6v6h-6zM124 103h18v6h-18zM147 103h6v6h-6zM165 103h6v6h-6zM113 109h6v6h-6zM136 109h6v6h-6zM147 109h6v6h-6zM159 109h6v6h-6zM171 109h11v6h-11zM188 109h6v6h-6zM113 115h6v6h-6zM153 115h6v6h-6zM165 115h6v6h-6zM136 121h6v5h-6zM153 121h6v5h-6zM165 121h6v5h-6zM113 126h6v6h-6zM136 126h6v6h-6zM147 126h18v6h-18zM113 132h11v6h-11zM130 132h6v6h-6zM142 132h5v6h-5zM124 138h6v6h-6zM136 138h6v6h-6zM147 138h6v6h-6zM425 155h17v6h-17zM448 155h6v6h-6zM460 155h5v6h-5zM425 161h23v6h-23zM454 161h6v6h-6zM431 167h6v6h-6zM442 167h18v6h-18zM437 173h11v5h-11zM454 173h6v5h-6zM465 173h6v5h-6zM402 178h46v6h-46zM454 178h11v6h-11zM390 184h6v6h-6zM402 184h23v6h-23zM431 184h11v6h-11zM448 184h6v6h-6zM465 184h6v6h-6zM402 190h11v6h-11zM425 190h17v6h-17zM194 196h5v6h-5zM379 196h5v6h-5zM379 202h5v5h-5zM194 207h5v6h-5zM292 213h6v6h-6zM379 213h5v6h-5zM199 219h6v6h-6zM379 219h11v6h-11zM194 225h5v5h-5zM379 225h5v5h-5zM379 230h11v6h-11zM130 236h6v6h-6zM142 236h5v6h-5zM182 236h6v6h-6zM199 236h6v6h-6zM252 236h5v6h-5zM269 236h6v6h-6zM315 236h6v6h-6zM350 236h6v6h-6zM361 236h6v6h-6zM396 236h6v6h-6zM425 236h6v6h-6zM130 242h6v6h-6zM142 242h5v6h-5zM153 242h12v6h-12zM171 242h5v6h-5zM182 242h12v6h-12zM199 242h12v6h-12zM217 242h6v6h-6zM228 242h18v6h-18zM252 242h11v6h-11zM275 242h5v6h-5zM298 242h6v6h-6zM350 242h6v6h-6zM361 242h6v6h-6zM442 242h6v6h-6zM199 248h6v6h-6zM379 248h5v6h-5zM194 254h11v5h-11zM199 259h6v6h-6zM199 265h6v6h-6zM286 265h6v6h-6zM194 271h11v6h-11zM384 271h6v6h-6zM194 277h11v5h-11zM199 282h6v6h-6zM384 282h6v6h-6zM194 288h5v6h-5zM379 288h5v6h-5zM194 300h5v6h-5zM194 306h11v5h-11zM286 306h6v5h-6zM384 306h6v5h-6zM194 311h5v6h-5zM379 311h11v6h-11zM194 317h11v6h-11zM384 317h6v6h-6zM194 323h11v6h-11zM384 323h6v6h-6zM147 329h52v6h-52zM217 329h29v6h-29zM257 329h18v6h-18zM280 329h6v6h-6zM315 329h6v6h-6zM350 329h6v6h-6zM379 329h5v6h-5zM402 329h11v6h-11zM448 329h6v6h-6z"/><path fill="#66ff90" d="M234 155h6v6h-6zM223 161h5v6h-5zM217 167h6v6h-6zM263 167h6v6h-6zM217 173h6v5h-6zM234 173h6v5h-6zM211 178h6v6h-6zM234 178h6v6h-6zM252 178h5v6h-5zM228 184h12v6h-12zM211 190h12v6h-12zM228 190h12v6h-12z"/><path fill="#6aff8d" d="M408 63h5v6h-5zM425 63h6v6h-6zM402 69h6v5h-6zM419 69h6v5h-6zM437 69h5v5h-5zM396 74h6v6h-6zM413 74h6v6h-6zM437 74h17v6h-17zM396 80h12v6h-12zM413 80h12v6h-12zM442 80h12v6h-12zM460 80h11v6h-11zM396 86h12v6h-12zM413 86h6v6h-6zM442 86h12v6h-12zM460 86h5v6h-5zM402 92h6v5h-6zM419 92h6v5h-6zM448 92h6v5h-6zM390 97h6v6h-6zM408 97h11v6h-11zM454 97h11v6h-11zM390 103h12v6h-12zM408 103h17v6h-17zM448 103h6v6h-6zM390 109h6v6h-6zM413 109h12v6h-12zM442 109h23v6h-23zM396 115h12v6h-12zM413 115h12v6h-12zM390 121h12v5h-12zM413 121h6v5h-6zM425 121h6v5h-6zM396 126h6v6h-6zM413 126h18v6h-18zM390 132h29v6h-29zM425 132h12v6h-12zM442 132h6v6h-6zM413 138h18v6h-18zM147 150h18v5h-18zM171 150h11v5h-11zM194 167h5v6h-5zM194 173h5v5h-5zM182 335h6v5h-6zM199 335h6v5h-6zM217 335h6v5h-6zM234 335h6v5h-6zM252 335h11v5h-11zM269 335h6v5h-6zM286 352h6v6h-6zM286 358h6v5h-6zM286 375h6v6h-6zM194 404h5v6h-5zM194 410h5v5h-5zM199 415h6v6h-6z"/><path fill="#6dff8a" d="M361 150h12v5h-12zM292 167h6v6h-6zM379 167h5v6h-5zM379 178h5v6h-5zM379 184h5v6h-5zM379 190h5v6h-5z"/><path fill="#70ff87" d="M344 63h6v6h-6zM327 69h11v5h-11zM361 69h6v5h-6zM194 74h5v6h-5zM298 74h11v6h-11zM327 74h5v6h-5zM194 80h5v6h-5zM321 80h6v6h-6zM361 80h18v6h-18zM298 86h6v6h-6zM309 86h6v6h-6zM332 86h12v6h-12zM350 86h6v6h-6zM361 86h6v6h-6zM304 92h5v5h-5zM315 92h17v5h-17zM338 92h6v5h-6zM356 92h5v5h-5zM367 92h12v5h-12zM298 97h17v6h-17zM321 97h6v6h-6zM332 97h18v6h-18zM356 97h17v6h-17zM194 103h5v6h-5zM309 103h12v6h-12zM327 103h23v6h-23zM361 103h12v6h-12zM298 109h17v6h-17zM327 109h23v6h-23zM367 109h6v6h-6zM315 115h6v6h-6zM327 115h17v6h-17zM350 115h11v6h-11zM367 115h6v6h-6zM309 121h12v5h-12zM327 121h5v5h-5zM338 121h41v5h-41zM298 126h11v6h-11zM315 126h23v6h-23zM344 126h6v6h-6zM356 126h11v6h-11zM373 126h6v6h-6zM304 132h5v6h-5zM321 132h6v6h-6zM332 132h6v6h-6zM344 132h35v6h-35zM304 138h5v6h-5zM315 138h35v6h-35zM356 138h5v6h-5zM373 138h6v6h-6zM119 144h11v6h-11zM136 144h6v6h-6zM402 150h6v5h-6zM425 150h6v5h-6zM384 155h6v6h-6zM384 161h6v6h-6zM384 167h6v6h-6zM384 178h6v6h-6zM384 190h6v6h-6z"/><path fill="#73ff83" d="M471 190h7v6h-7zM471 358h7v5h-7zM471 369h7v6h-7zM471 375h7v6h-7zM107 381h6v6h-6zM471 381h7v6h-7zM471 387h7v5h-7zM471 392h7v6h-7zM136 421h6v7h-6zM286 421h6v7h-6zM344 421h6v7h-6z"/><path fill="#77ff80" d="M217 150h11v5h-11zM252 150h5v5h-5zM199 161h6v6h-6z"/><path fill="#7aff7d" d="M384 132h6v6h-6zM419 144h12v6h-12z"/><path fill="#80ff77" d="M246 63h6v6h-6zM379 69h5v5h-5zM217 74h6v6h-6zM240 74h6v6h-6zM205 80h6v6h-6zM240 80h6v6h-6zM379 80h5v6h-5zM211 86h6v6h-6zM246 86h6v6h-6zM211 92h6v5h-6zM223 92h11v5h-11zM240 92h12v5h-12zM379 92h5v5h-5zM211 97h17v6h-17zM234 97h6v6h-6zM246 97h11v6h-11zM275 97h5v6h-5zM211 103h12v6h-12zM234 103h6v6h-6zM246 103h6v6h-6zM257 103h6v6h-6zM269 103h6v6h-6zM379 103h5v6h-5zM205 109h6v6h-6zM217 109h6v6h-6zM228 109h12v6h-12zM246 109h11v6h-11zM269 109h6v6h-6zM211 115h17v6h-17zM234 115h18v6h-18zM263 115h6v6h-6zM379 115h5v6h-5zM205 121h12v5h-12zM223 121h11v5h-11zM240 121h6v5h-6zM252 121h34v5h-34zM217 126h6v6h-6zM228 126h24v6h-24zM379 126h5v6h-5zM205 132h6v6h-6zM234 132h6v6h-6zM252 132h5v6h-5zM379 132h5v6h-5zM211 138h6v6h-6zM228 138h18v6h-18zM298 144h11v6h-11zM315 144h17v6h-17zM350 144h6v6h-6zM361 144h18v6h-18zM315 340h6v6h-6zM338 340h18v6h-18zM367 340h6v6h-6zM425 340h12v6h-12zM465 340h6v6h-6zM332 346h6v6h-6zM344 346h12v6h-12zM396 346h6v6h-6zM304 352h5v6h-5zM315 352h6v6h-6zM338 352h6v6h-6zM373 352h6v6h-6zM332 358h12v5h-12zM367 358h12v5h-12zM425 358h6v5h-6zM304 363h5v6h-5zM315 363h6v6h-6zM408 363h5v6h-5zM425 363h6v6h-6zM460 363h5v6h-5zM304 369h5v6h-5zM321 369h6v6h-6zM361 369h6v6h-6zM344 375h6v6h-6zM425 375h12v6h-12zM413 381h6v6h-6zM298 387h6v5h-6zM315 387h6v5h-6zM344 387h6v5h-6zM465 387h6v5h-6zM298 392h6v6h-6zM315 392h6v6h-6zM327 392h5v6h-5zM344 392h6v6h-6zM373 392h6v6h-6zM431 392h6v6h-6zM465 392h6v6h-6zM344 398h6v6h-6zM408 398h5v6h-5zM431 398h6v6h-6zM304 404h5v6h-5zM338 404h6v6h-6zM373 404h6v6h-6zM431 404h6v6h-6zM465 404h6v6h-6zM327 410h5v5h-5zM344 410h6v5h-6zM419 410h12v5h-12zM448 410h6v5h-6zM298 415h23v6h-23zM327 415h34v6h-34zM408 415h5v6h-5zM425 415h6v6h-6zM448 415h6v6h-6z"/><path fill="#87ff70" d="M119 196h5v6h-5zM205 196h6v6h-6zM408 196h5v6h-5zM182 202h6v5h-6zM205 202h6v5h-6zM367 202h6v5h-6zM460 202h11v5h-11zM188 207h6v6h-6zM269 207h6v6h-6zM437 207h5v6h-5zM454 207h11v6h-11zM159 213h6v6h-6zM298 213h6v6h-6zM344 213h6v6h-6zM396 213h6v6h-6zM465 213h6v6h-6zM136 219h6v6h-6zM298 219h11v6h-11zM373 219h6v6h-6zM113 225h6v5h-6zM165 225h6v5h-6zM176 225h6v5h-6zM205 225h6v5h-6zM234 225h6v5h-6zM252 225h5v5h-5zM315 225h6v5h-6zM327 225h5v5h-5zM367 225h6v5h-6zM402 225h6v5h-6zM431 225h11v5h-11zM460 225h5v5h-5zM113 230h6v6h-6zM153 230h6v6h-6zM217 230h6v6h-6zM228 230h12v6h-12zM298 230h6v6h-6zM437 230h5v6h-5zM223 248h5v6h-5zM269 248h6v6h-6zM205 254h6v5h-6zM257 254h6v5h-6zM269 254h6v5h-6zM119 259h5v6h-5zM211 259h6v6h-6zM223 259h5v6h-5zM298 259h6v6h-6zM448 259h12v6h-12zM113 265h6v6h-6zM130 265h6v6h-6zM223 265h5v6h-5zM280 271h6v6h-6zM419 271h6v6h-6zM217 277h6v5h-6zM408 277h5v5h-5zM159 282h6v6h-6zM240 282h6v6h-6zM321 282h6v6h-6zM205 294h6v6h-6zM315 294h12v6h-12zM344 294h12v6h-12zM367 294h6v6h-6zM460 294h5v6h-5zM223 300h5v6h-5zM246 300h6v6h-6zM257 300h6v6h-6zM147 311h6v6h-6zM344 311h6v6h-6zM373 311h6v6h-6zM437 311h5v6h-5zM176 317h6v6h-6zM205 317h6v6h-6zM431 317h6v6h-6zM119 323h5v6h-5zM246 323h11v6h-11zM350 323h6v6h-6zM402 323h17v6h-17zM454 323h6v6h-6z"/><path fill="#8dff6a" d="M199 138h6v6h-6zM199 144h6v6h-6zM211 144h6v6h-6zM223 144h11v6h-11zM159 155h12v6h-12zM176 155h6v6h-6zM315 155h6v6h-6zM344 155h6v6h-6zM367 155h6v6h-6zM119 161h5v6h-5zM136 161h11v6h-11zM188 161h6v6h-6zM332 161h12v6h-12zM119 167h5v6h-5zM298 167h6v6h-6zM327 167h5v6h-5zM153 173h6v5h-6zM298 178h6v6h-6zM350 178h6v6h-6zM165 184h6v6h-6zM182 184h6v6h-6zM338 184h6v6h-6zM136 340h6v6h-6zM147 340h12v6h-12zM165 340h6v6h-6zM136 346h6v6h-6zM165 346h6v6h-6zM223 346h5v6h-5zM165 352h11v6h-11zM211 352h12v6h-12zM228 352h6v6h-6zM119 358h11v5h-11zM147 358h6v5h-6zM182 358h6v5h-6zM217 358h6v5h-6zM257 358h6v5h-6zM269 358h6v5h-6zM182 363h6v6h-6zM234 363h6v6h-6zM130 369h6v6h-6zM159 369h6v6h-6zM223 369h5v6h-5zM269 369h6v6h-6zM142 375h5v6h-5zM159 381h6v6h-6zM217 381h11v6h-11zM130 387h6v5h-6zM142 387h5v5h-5zM240 387h6v5h-6zM130 392h12v6h-12zM147 392h6v6h-6zM217 392h6v6h-6zM269 392h6v6h-6zM130 398h6v6h-6zM217 398h6v6h-6zM142 404h5v6h-5zM217 404h6v6h-6zM246 404h11v6h-11zM263 404h17v6h-17zM142 410h5v5h-5zM217 410h6v5h-6zM240 410h6v5h-6zM182 415h6v6h-6zM234 415h12v6h-12zM252 415h11v6h-11zM269 415h6v6h-6z"/><path fill="#90ff66" d="M113 63h6v6h-6zM153 63h12v6h-12zM182 63h12v6h-12zM119 69h5v5h-5zM142 69h5v5h-5zM119 74h17v6h-17zM165 74h11v6h-11zM188 74h6v6h-6zM113 86h6v6h-6zM142 86h5v6h-5zM119 92h5v5h-5zM136 92h6v5h-6zM165 92h6v5h-6zM182 103h6v6h-6zM182 109h6v6h-6zM171 121h5v5h-5zM171 126h5v6h-5zM124 132h6v6h-6zM153 132h6v6h-6zM113 138h6v6h-6zM153 138h6v6h-6zM413 155h12v6h-12zM442 155h6v6h-6zM454 155h6v6h-6zM460 161h11v6h-11zM425 167h6v6h-6zM465 167h6v6h-6zM408 173h5v5h-5zM460 173h5v5h-5zM465 178h6v6h-6zM425 184h6v6h-6zM442 184h6v6h-6zM454 184h11v6h-11zM390 190h6v6h-6zM298 335h11v5h-11zM315 335h6v5h-6zM344 335h6v5h-6zM356 335h5v5h-5zM367 335h12v5h-12zM408 335h5v5h-5zM437 335h5v5h-5zM379 340h5v6h-5zM379 358h5v5h-5zM379 381h5v6h-5zM379 387h5v5h-5zM379 392h5v6h-5zM292 398h6v6h-6zM379 398h5v6h-5zM292 404h6v6h-6zM292 410h6v5h-6zM292 415h6v6h-6z"/><path fill="#94ff63" d="M211 161h6v6h-6zM228 161h12v6h-12zM257 161h6v6h-6zM211 167h6v6h-6zM234 167h6v6h-6zM269 167h6v6h-6zM211 173h6v5h-6zM223 173h5v5h-5zM246 173h6v5h-6zM269 173h6v5h-6z"/><path fill="#97ff60" d="M390 63h18v6h-18zM413 63h12v6h-12zM437 63h11v6h-11zM454 63h17v6h-17zM390 69h6v5h-6zM448 69h23v5h-23zM390 74h6v6h-6zM402 74h11v6h-11zM419 74h6v6h-6zM454 74h6v6h-6zM465 74h6v6h-6zM454 80h6v6h-6zM437 86h5v6h-5zM465 86h6v6h-6zM442 92h6v5h-6zM454 92h17v5h-17zM396 97h6v6h-6zM419 97h6v6h-6zM442 97h6v6h-6zM465 97h6v6h-6zM437 103h5v6h-5zM460 103h11v6h-11zM437 109h5v6h-5zM465 109h6v6h-6zM442 115h23v6h-23zM402 121h6v5h-6zM437 121h23v5h-23zM402 126h6v6h-6zM437 132h5v6h-5zM402 138h11v6h-11zM292 196h6v6h-6zM384 196h6v6h-6zM292 202h6v5h-6zM384 202h6v5h-6zM292 207h6v6h-6zM379 207h11v6h-11zM199 213h6v6h-6zM384 213h6v6h-6zM292 219h6v6h-6zM384 225h6v5h-6zM286 230h12v6h-12zM113 236h11v6h-11zM136 236h6v6h-6zM165 236h6v6h-6zM176 236h6v6h-6zM188 236h6v6h-6zM246 236h6v6h-6zM275 236h17v6h-17zM298 236h11v6h-11zM321 236h11v6h-11zM338 236h6v6h-6zM356 236h5v6h-5zM367 236h12v6h-12zM437 236h5v6h-5zM119 242h11v6h-11zM136 242h6v6h-6zM147 242h6v6h-6zM165 242h6v6h-6zM176 242h6v6h-6zM194 242h5v6h-5zM211 242h6v6h-6zM223 242h5v6h-5zM286 242h6v6h-6zM309 242h12v6h-12zM332 242h6v6h-6zM194 248h5v6h-5zM286 248h6v6h-6zM286 254h6v5h-6zM286 259h6v6h-6zM384 259h6v6h-6zM384 265h6v6h-6zM286 271h6v6h-6zM286 277h6v5h-6zM384 277h6v5h-6zM194 282h5v6h-5zM286 282h6v6h-6zM379 282h5v6h-5zM199 288h6v6h-6zM286 288h6v6h-6zM384 288h6v6h-6zM286 294h6v6h-6zM384 294h6v6h-6zM286 300h6v6h-6zM384 300h6v6h-6zM199 311h6v6h-6zM286 311h6v6h-6zM286 317h6v6h-6zM119 329h5v6h-5zM130 329h6v6h-6zM142 329h5v6h-5zM199 329h6v6h-6zM211 329h6v6h-6zM275 329h5v6h-5zM298 329h6v6h-6zM396 329h6v6h-6zM454 329h17v6h-17z"/><path fill="#9aff5d" d="M119 150h5v5h-5zM130 150h6v5h-6zM165 150h6v5h-6zM182 150h12v5h-12zM194 155h5v6h-5zM194 184h5v6h-5zM194 190h5v6h-5zM188 335h6v5h-6zM199 352h6v6h-6zM199 358h6v5h-6zM286 363h6v6h-6zM199 375h6v6h-6zM199 381h6v6h-6zM199 387h6v5h-6zM199 410h6v5h-6zM194 415h5v6h-5z"/><path fill="#9dff5a" d="M298 63h11v6h-11zM332 63h6v6h-6zM350 63h11v6h-11zM367 63h6v6h-6zM298 69h6v5h-6zM309 69h18v5h-18zM350 69h11v5h-11zM367 69h12v5h-12zM309 74h18v6h-18zM332 74h6v6h-6zM350 74h17v6h-17zM298 80h23v6h-23zM338 80h23v6h-23zM304 86h5v6h-5zM315 86h17v6h-17zM344 86h6v6h-6zM373 86h6v6h-6zM298 92h6v5h-6zM309 92h6v5h-6zM332 92h6v5h-6zM344 92h6v5h-6zM361 92h6v5h-6zM327 97h5v6h-5zM350 97h6v6h-6zM321 103h6v6h-6zM321 109h6v6h-6zM373 109h6v6h-6zM298 115h11v6h-11zM373 115h6v6h-6zM298 121h6v5h-6zM309 126h6v6h-6zM309 132h12v6h-12zM327 132h5v6h-5zM298 138h6v6h-6zM350 138h6v6h-6zM298 150h6v5h-6zM309 150h12v5h-12zM332 150h6v5h-6zM350 150h11v5h-11zM379 150h5v5h-5zM292 155h6v6h-6zM379 155h5v6h-5zM292 161h6v6h-6zM379 161h5v6h-5zM292 178h6v6h-6zM292 190h6v6h-6z"/><path fill="#9f0000" d="M471 58h7v5h-7zM199 80h6v6h-6zM194 230h5v6h-5zM402 254h6v5h-6z"/><path fill="#a0ff56" d="M194 63h5v6h-5zM194 69h5v5h-5zM194 86h5v6h-5zM194 97h5v6h-5zM130 144h6v6h-6zM142 144h5v6h-5zM408 150h17v5h-17zM431 150h6v5h-6zM448 150h6v5h-6zM460 150h5v5h-5zM384 173h6v5h-6zM384 184h6v6h-6z"/><path fill="#a4ff53" d="M234 150h6v5h-6zM263 150h6v5h-6zM286 155h6v6h-6zM199 178h6v6h-6z"/><path fill="#a7ff50" d="M257 63h29v6h-29zM252 69h28v5h-28zM257 74h12v6h-12zM280 74h6v6h-6zM228 80h12v6h-12zM252 80h5v6h-5zM263 80h23v6h-23zM205 86h6v6h-6zM217 86h6v6h-6zM228 86h12v6h-12zM252 86h5v6h-5zM263 86h23v6h-23zM205 92h6v5h-6zM217 92h6v5h-6zM252 92h11v5h-11zM269 92h11v5h-11zM384 92h6v5h-6zM205 97h6v6h-6zM240 97h6v6h-6zM257 97h6v6h-6zM269 97h6v6h-6zM280 97h6v6h-6zM384 97h6v6h-6zM205 103h6v6h-6zM223 103h5v6h-5zM240 103h6v6h-6zM252 103h5v6h-5zM263 103h6v6h-6zM275 103h5v6h-5zM211 109h6v6h-6zM223 109h5v6h-5zM257 109h12v6h-12zM275 109h11v6h-11zM228 115h6v6h-6zM252 115h11v6h-11zM269 115h17v6h-17zM384 115h6v6h-6zM217 121h6v5h-6zM234 121h6v5h-6zM252 126h11v6h-11zM275 126h5v6h-5zM384 126h6v6h-6zM228 132h6v6h-6zM246 132h6v6h-6zM205 138h6v6h-6zM223 138h5v6h-5zM246 138h6v6h-6zM390 144h29v6h-29z"/><path fill="#adff49" d="M379 63h5v6h-5zM292 69h6v5h-6zM379 74h5v6h-5zM379 86h5v6h-5zM292 92h6v5h-6zM292 97h6v6h-6zM379 97h5v6h-5zM292 103h6v6h-6zM292 115h6v6h-6zM292 121h6v5h-6zM379 121h5v5h-5zM292 126h6v6h-6zM292 132h6v6h-6zM292 144h6v6h-6zM309 144h6v6h-6zM344 144h6v6h-6zM356 144h5v6h-5zM379 144h5v6h-5z"/><path fill="#b1ff46" d="M361 58h6v5h-6zM107 150h6v5h-6zM107 248h6v6h-6zM107 277h6v5h-6zM107 282h6v6h-6zM471 335h7v5h-7zM471 340h7v6h-7zM471 352h7v6h-7zM471 363h7v6h-7zM107 387h6v5h-6zM107 392h6v6h-6zM107 398h6v6h-6zM471 398h7v6h-7zM107 404h6v6h-6zM471 404h7v6h-7zM153 421h6v7h-6zM205 421h6v7h-6zM280 421h6v7h-6zM390 421h12v7h-12zM408 421h11v7h-11z"/><path fill="#b7ff40" d="M286 69h6v5h-6zM286 80h6v6h-6zM286 86h6v6h-6zM199 92h6v5h-6zM286 97h6v6h-6zM199 103h6v6h-6zM199 109h6v6h-6zM286 109h6v6h-6zM199 115h6v6h-6zM199 121h6v5h-6zM286 126h6v6h-6zM217 144h6v6h-6zM234 144h6v6h-6z"/><path fill="#ceff29" d="M292 335h6v5h-6zM361 335h6v5h-6zM379 335h5v5h-5zM292 340h6v6h-6zM327 340h5v6h-5zM361 340h6v6h-6zM379 346h5v6h-5zM304 358h5v5h-5zM402 363h6v6h-6zM304 375h5v6h-5zM379 375h5v6h-5zM454 392h6v6h-6zM379 404h5v6h-5zM361 415h6v6h-6zM373 415h6v6h-6z"/><path fill="#d1ff26" d="M448 207h6v6h-6zM437 213h5v6h-5zM454 219h11v6h-11zM292 225h6v5h-6zM465 230h6v6h-6zM124 236h6v6h-6zM159 236h6v6h-6zM194 236h5v6h-5zM309 236h6v6h-6zM332 236h6v6h-6zM379 236h5v6h-5zM390 236h6v6h-6zM402 236h6v6h-6zM431 236h6v6h-6zM113 242h6v6h-6zM246 242h6v6h-6zM321 242h6v6h-6zM390 242h6v6h-6zM425 242h12v6h-12zM384 254h6v5h-6zM448 254h6v5h-6zM356 265h5v6h-5zM454 265h6v6h-6zM315 271h6v6h-6zM396 271h6v6h-6zM413 271h6v6h-6zM309 277h6v5h-6zM460 288h5v6h-5zM379 294h5v6h-5zM465 294h6v6h-6zM315 300h6v6h-6zM361 300h6v6h-6zM373 306h6v5h-6zM113 311h6v6h-6zM113 317h6v6h-6zM419 317h6v6h-6zM286 323h12v6h-12zM367 323h12v6h-12zM442 323h6v6h-6zM465 323h6v6h-6zM124 329h6v6h-6zM136 329h6v6h-6zM205 329h6v6h-6zM246 329h6v6h-6zM286 329h6v6h-6zM332 329h6v6h-6zM344 329h6v6h-6zM384 329h12v6h-12z"/><path fill="#d4ff23" d="M194 92h5v5h-5zM194 121h5v5h-5zM124 150h6v5h-6zM136 150h11v5h-11zM304 150h5v5h-5zM344 150h6v5h-6zM437 150h11v5h-11zM454 150h6v5h-6zM465 150h6v5h-6zM465 155h6v6h-6zM292 173h6v5h-6zM419 173h6v5h-6zM292 184h6v6h-6zM142 335h5v5h-5zM153 335h6v5h-6zM194 335h5v5h-5zM188 340h11v6h-11zM252 340h5v6h-5zM124 363h6v6h-6zM199 363h6v6h-6zM199 369h6v6h-6zM275 369h5v6h-5zM176 375h6v6h-6zM217 387h6v5h-6zM124 392h6v6h-6zM194 392h5v6h-5zM275 392h5v6h-5zM199 398h6v6h-6zM275 398h5v6h-5zM211 404h6v6h-6zM269 410h6v5h-6zM205 415h6v6h-6zM223 415h11v6h-11zM263 415h6v6h-6zM286 415h6v6h-6z"/><path fill="#d7ff1f" d="M448 63h6v6h-6zM384 69h6v5h-6zM408 69h5v5h-5zM384 80h6v6h-6zM384 86h6v6h-6zM396 92h6v5h-6zM384 103h6v6h-6zM384 121h6v5h-6zM384 138h6v6h-6zM384 144h6v6h-6zM205 150h6v5h-6z"/><path fill="#dbff1c" d="M327 63h5v6h-5zM361 63h6v6h-6zM373 63h6v6h-6zM304 69h5v5h-5zM332 80h6v6h-6zM373 103h6v6h-6zM292 138h6v6h-6zM379 138h5v6h-5z"/><path fill="#e1ff16" d="M252 63h5v6h-5zM286 63h6v6h-6zM280 69h6v5h-6zM269 74h6v6h-6zM257 80h6v6h-6zM199 86h6v6h-6zM223 86h5v6h-5zM240 86h6v6h-6zM234 92h6v5h-6zM263 92h6v5h-6zM280 92h12v5h-12zM199 97h6v6h-6zM263 97h6v6h-6zM280 103h12v6h-12zM286 115h6v6h-6zM286 121h6v5h-6zM199 126h12v6h-12zM205 144h6v6h-6zM240 144h6v6h-6z"/><path fill="#ebff0c" d="M153 58h6v5h-6zM188 58h6v5h-6zM246 58h6v5h-6zM471 103h7v6h-7zM107 115h6v6h-6zM107 121h6v5h-6zM107 126h6v6h-6zM107 144h6v6h-6zM107 161h6v6h-6zM107 184h6v6h-6zM471 184h7v6h-7zM107 190h6v6h-6zM107 202h6v5h-6zM471 202h7v5h-7zM107 207h6v6h-6zM471 207h7v6h-7zM107 213h6v6h-6zM107 225h6v5h-6zM107 236h6v6h-6zM107 254h6v5h-6zM107 259h6v6h-6zM107 265h6v6h-6zM107 271h6v6h-6zM107 288h6v6h-6zM471 329h7v6h-7zM471 346h7v6h-7zM471 410h7v5h-7zM471 415h7v6h-7zM234 421h6v7h-6zM384 421h6v7h-6zM402 421h6v7h-6zM460 421h5v7h-5z"/><path fill="#f4f802" d="M309 63h18v6h-18zM344 69h6v5h-6zM344 74h6v6h-6zM437 80h5v6h-5zM292 86h6v6h-6zM437 92h5v5h-5zM315 97h6v6h-6zM437 97h5v6h-5zM292 109h6v6h-6zM437 115h5v6h-5zM263 126h12v6h-12zM199 132h6v6h-6zM153 144h12v6h-12zM113 150h6v5h-6zM327 150h5v5h-5zM338 150h6v5h-6zM373 150h6v5h-6zM280 155h6v6h-6zM408 155h5v6h-5zM217 161h6v6h-6zM269 202h6v5h-6zM211 236h6v6h-6zM344 236h6v6h-6zM315 248h6v6h-6zM130 254h6v5h-6zM350 259h6v6h-6zM361 277h6v5h-6zM113 300h6v6h-6zM130 346h6v6h-6zM408 346h5v6h-5zM142 415h5v6h-5zM153 415h6v6h-6zM171 415h5v6h-5z"/><path fill="#ff1a00" d="M107 58h6v5h-6zM298 58h6v5h-6zM373 58h6v5h-6zM454 126h6v6h-6zM188 259h6v6h-6zM419 265h6v6h-6zM460 277h5v5h-5zM321 421h6v7h-6z"/><path fill="#ff6400" d="M252 58h5v5h-5zM269 58h11v5h-11zM304 58h5v5h-5zM327 58h11v5h-11zM384 58h6v5h-6zM419 58h6v5h-6zM471 63h7v6h-7zM107 69h6v5h-6zM223 74h5v6h-5zM246 144h6v6h-6zM471 155h7v6h-7zM286 190h6v6h-6zM454 248h6v6h-6zM298 254h6v5h-6zM454 254h6v5h-6zM390 259h6v6h-6zM460 282h5v6h-5zM159 340h6v6h-6zM130 410h6v5h-6zM211 415h6v6h-6zM263 421h6v7h-6zM338 421h6v7h-6zM373 421h6v7h-6z"/><path fill="#ff8900" d="M124 58h18v5h-18zM165 58h6v5h-6zM182 58h6v5h-6zM194 58h5v5h-5zM257 58h12v5h-12zM292 58h6v5h-6zM309 58h18v5h-18zM350 58h6v5h-6zM367 58h6v5h-6zM390 58h12v5h-12zM408 58h11v5h-11zM465 58h6v5h-6zM107 63h6v6h-6zM471 69h7v5h-7zM107 74h6v6h-6zM471 86h7v6h-7zM107 92h6v5h-6zM107 109h6v6h-6zM471 109h7v6h-7zM471 121h7v5h-7zM107 132h6v6h-6zM471 150h7v5h-7zM471 161h7v6h-7zM107 167h6v6h-6zM471 167h7v6h-7zM471 173h7v5h-7zM471 178h7v6h-7zM471 213h7v6h-7zM471 225h7v5h-7zM107 230h6v6h-6zM471 230h7v6h-7zM107 242h6v6h-6zM471 300h7v6h-7zM471 317h7v6h-7zM471 323h7v6h-7zM107 363h6v6h-6zM240 421h6v7h-6zM298 421h17v7h-17zM332 421h6v7h-6zM350 421h6v7h-6zM361 421h12v7h-12zM425 421h6v7h-6zM454 421h6v7h-6z"/><path fill="#ff9800" d="M240 63h6v6h-6zM292 63h6v6h-6zM240 69h6v5h-6zM228 74h6v6h-6zM252 74h5v6h-5zM211 80h6v6h-6zM176 132h6v6h-6zM257 150h6v5h-6zM454 236h6v6h-6zM408 242h5v6h-5zM402 271h6v6h-6zM460 271h5v6h-5zM413 329h6v6h-6zM176 358h6v5h-6zM124 369h6v6h-6zM124 387h6v5h-6zM130 404h6v6h-6zM136 415h6v6h-6z"/><path fill="#ffc400" d="M113 58h11v5h-11zM142 58h11v5h-11zM159 58h6v5h-6zM176 58h6v5h-6zM234 58h6v5h-6zM280 58h12v5h-12zM356 58h5v5h-5zM379 58h5v5h-5zM402 58h6v5h-6zM425 58h40v5h-40zM471 74h7v6h-7zM107 80h6v6h-6zM471 80h7v6h-7zM107 86h6v6h-6zM471 92h7v5h-7zM107 97h6v6h-6zM471 97h7v6h-7zM107 103h6v6h-6zM107 138h6v6h-6zM107 155h6v6h-6zM107 173h6v5h-6zM107 178h6v6h-6zM107 196h6v6h-6zM471 196h7v6h-7zM107 219h6v6h-6zM471 219h7v6h-7zM471 311h7v6h-7zM159 421h6v7h-6zM246 421h17v7h-17zM275 421h5v7h-5zM292 421h6v7h-6zM315 421h6v7h-6zM327 421h5v7h-5zM356 421h5v7h-5zM379 421h5v7h-5zM419 421h6v7h-6zM465 421h13v7h-13z"/><path fill="#ffd000" d="M384 63h6v6h-6zM234 74h6v6h-6zM286 74h12v6h-12zM373 74h6v6h-6zM384 74h6v6h-6zM217 80h11v6h-11zM292 80h6v6h-6zM257 86h6v6h-6zM194 109h5v6h-5zM384 109h6v6h-6zM465 115h6v6h-6zM437 126h5v6h-5zM286 138h6v6h-6zM194 150h5v5h-5zM246 150h6v5h-6zM292 150h6v5h-6zM263 155h6v6h-6zM269 161h6v6h-6zM448 225h6v5h-6zM460 230h5v6h-5zM419 242h6v6h-6zM309 248h6v6h-6zM448 248h6v6h-6zM425 259h6v6h-6zM327 265h5v6h-5zM460 265h5v6h-5zM408 271h5v6h-5zM465 300h6v6h-6zM425 317h6v6h-6zM356 323h5v6h-5zM286 335h6v5h-6zM442 335h6v5h-6zM171 346h5v6h-5zM188 346h11v6h-11zM124 352h6v6h-6zM176 363h6v6h-6zM124 375h6v6h-6zM124 381h6v6h-6zM194 381h5v6h-5zM199 392h6v6h-6zM124 398h6v6h-6zM199 404h6v6h-6zM211 410h6v5h-6zM379 410h5v5h-5zM217 415h6v6h-6zM379 415h5v6h-5z"/></g>
<rect x="107.5" y="58.5" width="370" height="369" fill="none" stroke="#000" stroke-width="1.11"/>
<path d="M110.5 428v4.5M107 424.5h-4.5M168.5 428v4.5M107 367.5h-4.5M226.5 428v4.5M107 309.5h-4.5M283.5 428v4.5M107 251.5h-4.5M341.5 428v4.5M107 193.5h-4.5M399.5 428v4.5M107 136.5h-4.5M457.5 428v4.5M107 78.5h-4.5M518.9 410.5h4.6M518.9 364.5h4.6M518.9 318.5h4.6M518.9 272.5h4.6M518.9 225.5h4.6M518.9 179.5h4.6M518.9 133.5h4.6M518.9 86.5h4.6" stroke="#000" stroke-width="1.11" fill="none"/>
<path d="M501.60 76.40L501.60 74.40L510.00 57.60L518.40 74.40L518.40 76.40z" fill="#800000"/>
<path d="M501.60 408.40L501.60 410.40L510.00 427.20L518.40 410.40L518.40 408.40z" fill="#000080"/>
<rect x="501.60" y="74.40" width="16.80" height="336.00" fill="url(#jet)"/>
<path d="M501.60 74.40L510.00 57.60L518.40 74.40L518.40 410.40L510.00 427.20L501.60 410.40z" fill="none" stroke="#000" stroke-width="1.11" stroke-linejoin="miter"/>
<g font-family="'DejaVu Sans', 'Liberation Sans', sans-serif" fill="#000"><text x="320" y="19.6" font-size="12.5" text-anchor="middle">Data file: modeM0/AS1A09_044T01_9000003792_26292cztM0_level2_quad_clean.evt</text><text x="292" y="49.3" font-size="16.67" text-anchor="middle">Quadrant 1 DPH</text><text x="110.89" y="447.8" font-size="13.89" text-anchor="middle">0</text><text x="99.0" y="429.61" font-size="13.89" text-anchor="end">0</text><text x="168.74" y="447.8" font-size="13.89" text-anchor="middle">10</text><text x="97.5" y="371.86" font-size="13.89" text-anchor="end">10</text><text x="226.09" y="447.8" font-size="13.89" text-anchor="middle">20</text><text x="98.0" y="314.11" font-size="13.89" text-anchor="end">20</text><text x="283.84" y="447.8" font-size="13.89" text-anchor="middle">30</text><text x="97.0" y="257.36" font-size="13.89" text-anchor="end">30</text><text x="341.99" y="447.8" font-size="13.89" text-anchor="middle">40</text><text x="98.3" y="198.61" font-size="13.89" text-anchor="end">40</text><text x="398.54" y="447.8" font-size="13.89" text-anchor="middle">50</text><text x="97.0" y="140.86" font-size="13.89" text-anchor="end">50</text><text x="457.09" y="447.8" font-size="13.89" text-anchor="middle">60</text><text x="98.0" y="83.11" font-size="13.89" text-anchor="end">60</text><text x="529.1" y="415.70" font-size="13.89" text-anchor="start">0</text><text x="528.3" y="370.42" font-size="13.89" text-anchor="start">50</text><text x="528.3" y="323.14" font-size="13.89" text-anchor="start">100</text><text x="528.3" y="276.86" font-size="13.89" text-anchor="start">150</text><text x="528.3" y="230.58" font-size="13.89" text-anchor="start">200</text><text x="528.3" y="184.30" font-size="13.89" text-anchor="start">250</text><text x="528.3" y="138.01" font-size="13.89" text-anchor="start">300</text><text x="528.3" y="91.73" font-size="13.89" text-anchor="start">350</text></g>
</svg>
</body></html>
